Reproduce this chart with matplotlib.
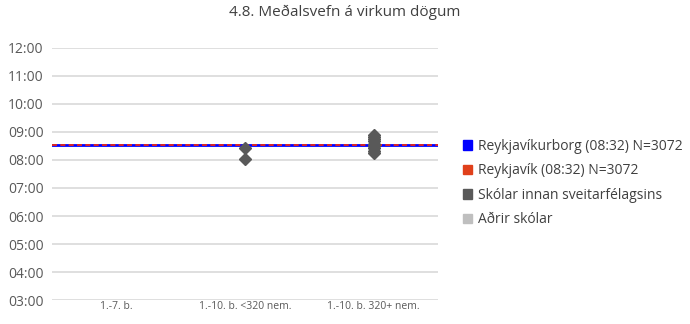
import matplotlib.pyplot as plt
from matplotlib.patches import Patch

plt.rcParams['font.family'] = ['Open Sans', 'DejaVu Sans']

categories = ["1.-7. b.", "1.-10. b. <320 nem.", "1.-10. b. 320+ nem."]
city_avg = 8 + 32 / 60  # 08:32
# school averages (hours) per category
schools_small = [8 + 25 / 60, 8 + 3 / 60]
schools_large = [8 + 15 / 60, 8 + 20 / 60, 8 + 25 / 60, 8 + 30 / 60, 8 + 35 / 60,
                 8 + 40 / 60, 8 + 45 / 60, 8 + 50 / 60, 8 + 54 / 60]
yticks = list(range(3, 13))
ylabels = [f"{h:02d}:00" for h in yticks]

fig = plt.figure(figsize=(6.9, 3.24), dpi=100)
ax = fig.add_axes([0.0754, 0.074, 0.5596, 0.778])

ax.set_xlim(0, 3)
ax.set_ylim(3, 12)
ax.set_yticks(yticks)
ax.set_yticklabels(ylabels)
ax.grid(axis='y', color='#d9d9d9', linewidth=1.2)
ax.set_axisbelow(True)
for s in ax.spines.values():
    s.set_visible(False)
ax.tick_params(axis='y', length=0, labelsize=10, labelcolor='#595959', pad=6)
ax.set_xticks([0.5, 1.5, 2.5])
ax.set_xticklabels(categories)
ax.tick_params(axis='x', length=0, labelsize=7.5, labelcolor='#595959', pad=1)

ax.plot([0, 3], [city_avg, city_avg], color='#0000ff', linewidth=2, zorder=3)
ax.plot([0, 3], [city_avg, city_avg], color='#ff2a00', linewidth=1.2,
        dashes=(3, 2), zorder=4)

ax.plot([1.5] * len(schools_small), schools_small, 'D', color='#595959',
        markersize=6.5, zorder=5)
ax.plot([2.5] * len(schools_large), schools_large, 'D', color='#595959',
        markersize=6.5, zorder=5)

fig.suptitle("4.8. Meðalsvefn á virkum dögum", x=0.5, y=0.985,
             fontsize=11, color='#404040')

handles = [Patch(color='#0000ff'), Patch(color='#e0401a'),
           Patch(color='#595959'), Patch(color='#bfbfbf')]
labels = ["Reykjavíkurborg (08:32) N=3072", "Reykjavík (08:32) N=3072",
          "Skólar innan sveitarfélagsins", "Aðrir skólar"]
fig.legend(handles, labels, loc='upper left', bbox_to_anchor=(0.653, 0.61),
           frameon=False, fontsize=10, handlelength=0.65, handleheight=0.65,
           handletextpad=0.45, labelspacing=0.68, labelcolor='#404040')

fig.savefig("out.png", dpi=100)
